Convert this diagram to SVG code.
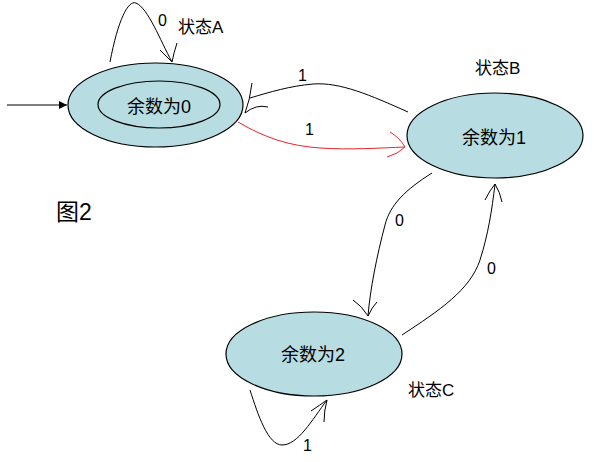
<svg xmlns="http://www.w3.org/2000/svg" width="597" height="462" viewBox="0 0 597 462">
<style>
.node{fill:#b7dde2;stroke:#000;stroke-width:1.2}
.ln{fill:none;stroke:#000;stroke-width:1}
.red{fill:none;stroke:#e8262a;stroke-width:1}
text{font-family:"Liberation Sans","Noto Sans CJK SC",sans-serif;fill:#000}
.lbl{font-size:16px}
.st{font-size:17px}
.nt{font-size:18px;text-anchor:middle}
</style>
<defs>
<marker id="ah" viewBox="0 0 10 10" refX="10" refY="5" markerWidth="8" markerHeight="8" orient="auto"><path d="M10 5 L0 0 L0 10 Z" fill="#000"/></marker>
</defs>
<rect width="597" height="462" fill="#fff"/>
<g id="connectors">
<path class="ln" d="M7 105 L67 105" marker-end="url(#ah)"/>
<path class="ln" d="M110 62 C118 20 128 0 136 3 C148 8 160 40 172 62"/>
<path class="ln" d="M160 50 Q166 56 172 62 Q174 52 177 43"/>
<path class="ln" d="M408 112 C370 95 340 82 313 84 C290 86 270 92 250 98"/>
<path class="ln" d="M252 83 Q250 100 245 113 Q256 104 268 107"/>
<path class="red" d="M238 122 C265 138 290 146 320 148 C350 150 380 148 405 147"/>
<path class="red" d="M390 132 Q400 138 405 147 Q398 154 387 157"/>
<path class="ln" d="M432 173 C405 190 390 205 385 225 C377 255 370 290 368 316"/>
<path class="ln" d="M353 300 Q362 306 368 316 Q372 307 377 302"/>
<path class="ln" d="M402 335 C440 310 470 290 480 260 C488 235 492 210 495 184"/>
<path class="ln" d="M485 200 Q490 190 495 184 Q500 192 502 202"/>
<path class="ln" d="M250 390 C258 415 268 445 282 445 C298 445 312 420 327 400"/>
<path class="ln" d="M311 411 Q320 405 327 400 Q324 411 324 422"/>
</g>
<g id="nodeA">
<ellipse class="node" cx="155.5" cy="105" rx="87.5" ry="42"/>
<ellipse class="node" cx="159" cy="104.5" rx="61" ry="23.5"/>
<text class="nt" x="159" y="113">余数为0</text>
<text class="st" x="178" y="33">状态A</text>
</g>
<g id="nodeB">
<ellipse class="node" cx="495" cy="135.5" rx="88" ry="42.5"/>
<text class="nt" x="494" y="144">余数为1</text>
<text class="st" x="475" y="74">状态B</text>
</g>
<g id="nodeC">
<ellipse class="node" cx="314" cy="354" rx="88" ry="42"/>
<text class="nt" x="313" y="361">余数为2</text>
<text class="st" x="408" y="396">状态C</text>
</g>
<g id="labels">
<text class="lbl" x="158" y="26">0</text>
<text class="lbl" x="298" y="81">1</text>
<text class="lbl" x="305" y="135">1</text>
<text class="lbl" x="395" y="226">0</text>
<text class="lbl" x="487" y="274">0</text>
<text class="lbl" x="303" y="451">1</text>
<text x="56" y="220" font-size="23">图2</text>
</g>
</svg>
